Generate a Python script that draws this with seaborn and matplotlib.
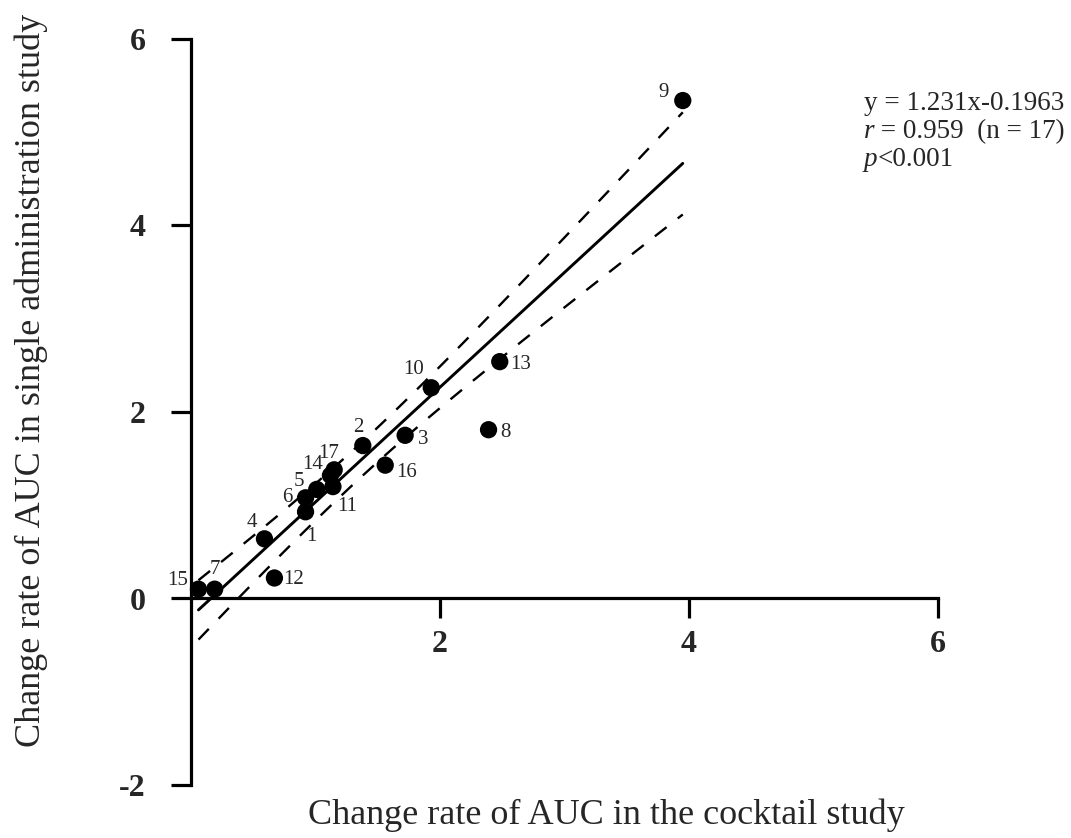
import numpy as np
import pandas as pd
import matplotlib
matplotlib.use("Agg")
import matplotlib.pyplot as plt
import seaborn as sns

# ---- data ----
ids = [str(i) for i in range(1, 18)]
cocktail = [0.92, 1.38, 1.72, 0.59, 1.01, 0.92, 0.19, 2.39, 3.95, 1.93, 1.14, 0.67, 2.48, 1.12, 0.06, 1.56, 1.15]
single = [0.93, 1.64, 1.75, 0.64, 1.17, 1.08, 0.10, 1.81, 5.34, 2.26, 1.20, 0.22, 2.54, 1.32, 0.10, 1.43, 1.38]
slope = 1.231
intercept = -0.1963
t_crit = 2.131  # t(0.975, df=15)
x_ticks = [2, 4, 6]
y_ticks = [-2, 0, 2, 4, 6]
# stats lines: (italic prefix, regular rest)
stats_lines = [("", "y = 1.231x-0.1963"), ("r", " = 0.959  (n = 17)"), ("p", "<0.001")]

# label offsets (points) for point numbers
label_offsets = [(4, -18), (-3, 13), (13, -3), (-9, 12), (-13, 6), (-13, 0), (0, 14), (12, -2),
                 (-14, 6), (-13, 13), (10, -14), (14, -1), (15, -2), (-13, 8), (-15, 6), (15, -5), (-4, 12)]

sns.set_style("white")
plt.rcParams["font.family"] = ["Liberation Serif", "DejaVu Serif"]

fig = plt.figure(figsize=(10.71, 8.38), dpi=100)
ax = fig.add_axes([191 / 1071, 1 - 785 / 838, (938 - 191) / 1071, (785 - 39) / 838])

df = pd.DataFrame({"id": ids, "x": cocktail, "y": single})

# regression line and confidence band
xa = np.array(cocktail)
ya = np.array(single)
n = len(xa)
resid = ya - (slope * xa + intercept)
s = np.sqrt(np.sum(resid ** 2) / (n - 2))
sxx = np.sum((xa - xa.mean()) ** 2)
xg = np.linspace(xa.min(), xa.max(), 200)
yg = slope * xg + intercept
hw = t_crit * s * np.sqrt(1 / n + (xg - xa.mean()) ** 2 / sxx)

sns.lineplot(x=xg, y=yg, ax=ax, color="black", lw=2.1, clip_on=False)
sns.lineplot(x=xg, y=yg + hw, ax=ax, color="black", lw=1.7, clip_on=False)
ax.lines[-1].set_dashes((6.3, 6))
sns.lineplot(x=xg, y=yg - hw, ax=ax, color="black", lw=1.7, clip_on=False)
ax.lines[-1].set_dashes((6.3, 6))

sns.scatterplot(data=df, x="x", y="y", ax=ax, color="black", s=155, edgecolor="none",
                zorder=5, clip_on=False)

for lab, xv, yv, off in zip(ids, cocktail, single, label_offsets):
    ax.annotate(lab, (xv, yv), xytext=off, textcoords="offset points",
                ha="center", va="center", fontsize=15)

ax.set_xlim(0, 6)
ax.set_ylim(-2, 6)
ax.spines["top"].set_visible(False)
ax.spines["right"].set_visible(False)
ax.spines["bottom"].set_position(("data", 0))
ax.spines["bottom"].set_bounds(0, 6)
for sp in ["left", "bottom"]:
    ax.spines[sp].set_linewidth(2.3)
    ax.spines[sp].set_color("black")
ax.set_xticks(x_ticks)
ax.set_yticks(y_ticks)
ax.set_xticklabels([str(v) for v in x_ticks], fontweight="bold", fontsize=23)
ax.set_yticklabels([str(v) for v in y_ticks], fontweight="bold", fontsize=23)
ax.tick_params(axis="both", direction="out", length=14.5, width=2.3, color="black",
               left=True, bottom=True)
ax.tick_params(axis="x", pad=8)
ax.tick_params(axis="y", pad=18)
ax.set_xlabel("")
ax.set_ylabel("")

fig.text(606 / 1071, 1 - 815 / 838, "Change rate of AUC in the cocktail study",
         ha="center", va="center", fontsize=26)
fig.text(31 / 1071, 1 - 380 / 838, "Change rate of AUC in single administration study",
         ha="center", va="center", fontsize=26, rotation=90)

fig.canvas.draw()
renderer = fig.canvas.get_renderer()
for i, (it, rest) in enumerate(stats_lines):
    ypos = 1 - (110 + i * 28) / 838
    x0 = 864 / 1071
    if it:
        t = fig.text(x0, ypos, it, ha="left", va="baseline", fontsize=19.5, fontstyle="italic")
        w = t.get_window_extent(renderer).width / fig.bbox.width
        x0 = x0 + w
    fig.text(x0, ypos, rest, ha="left", va="baseline", fontsize=19.5)

fig.savefig("out.png", dpi=100)
